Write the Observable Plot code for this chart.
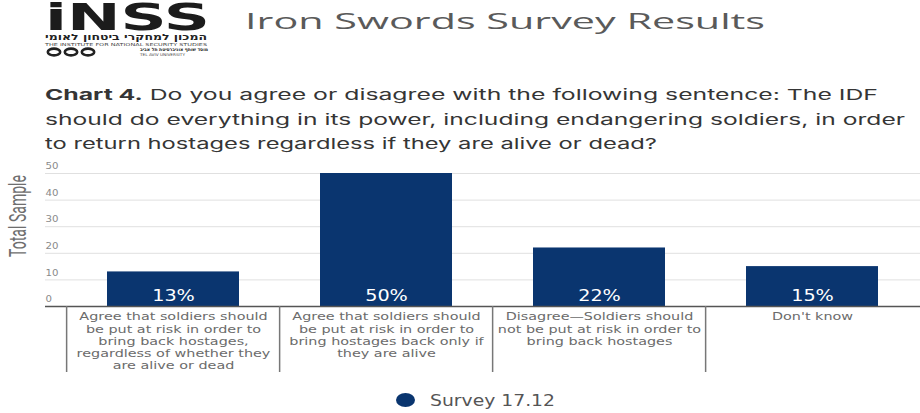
<!DOCTYPE html>
<html>
<head>
<meta charset="utf-8">
<script src="https://cdn.jsdelivr.net/npm/d3@7"></script>
<script src="https://cdn.jsdelivr.net/npm/@observablehq/plot@0.6"></script>
<style>
  html, body { margin: 0; padding: 0; background: #fff; }
  #page { position: relative; width: 920px; height: 413px; overflow: hidden; font-family: "DejaVu Sans", sans-serif; }
  #header { position: absolute; left: 0; top: 0; }
  #chart { position: absolute; left: 0; top: 155px; }
  #ylab { position: absolute; left: 0; top: 160px; }
  #legend { position: absolute; left: 380px; top: 385px; }
</style>
</head>
<body>
<div id="page">
  <svg id="header" width="920" height="155" xmlns="http://www.w3.org/2000/svg">
    <text transform="translate(45,30) scale(1,1.18)" font-family="DejaVu Sans" font-weight="bold" font-size="31" fill="#1c1c1c" textLength="165" lengthAdjust="spacingAndGlyphs">iNSS</text>
    <text x="126" y="40" font-family="DejaVu Sans" font-weight="bold" font-size="8.5" fill="#222" text-anchor="middle" textLength="162" lengthAdjust="spacingAndGlyphs">המכון למחקרי ביטחון לאומי</text>
    <text x="45" y="45.5" font-family="DejaVu Sans" font-size="4" fill="#444" textLength="162" lengthAdjust="spacingAndGlyphs">THE INSTITUTE FOR NATIONAL SECURITY STUDIES</text>
    <ellipse cx="54" cy="52" rx="6.2" ry="3.4" fill="none" stroke="#222" stroke-width="2.6"/>
    <ellipse cx="71" cy="52" rx="6.2" ry="3.4" fill="none" stroke="#222" stroke-width="2.6"/>
    <ellipse cx="88" cy="52" rx="6.2" ry="3.4" fill="none" stroke="#222" stroke-width="2.6"/>
    <text x="140" y="51" font-family="DejaVu Sans" font-weight="bold" font-size="4.5" fill="#222" textLength="68" lengthAdjust="spacingAndGlyphs">מוסד שותף אוניברסיטת תל אביב</text>
    <text x="140" y="55.5" font-family="DejaVu Sans" font-size="3.8" fill="#444" textLength="45" lengthAdjust="spacingAndGlyphs">TEL AVIV UNIVERSITY</text>
    <text x="245" y="28.5" font-family="Open Sans" font-size="22" fill="#5a5a5a" textLength="520" lengthAdjust="spacingAndGlyphs">Iron Swords Survey Results</text>
    <g font-family="Inter" font-size="15" fill="#353535">
      <text x="45" y="100" textLength="833" lengthAdjust="spacingAndGlyphs"><tspan font-weight="bold">Chart 4.</tspan> Do you agree or disagree with the following sentence: The IDF</text>
      <text x="45" y="124.5" textLength="860" lengthAdjust="spacingAndGlyphs">should do everything in its power, including endangering soldiers, in order</text>
      <text x="45" y="149" textLength="612" lengthAdjust="spacingAndGlyphs">to return hostages regardless if they are alive or dead?</text>
    </g>
  </svg>
  <div id="chart"></div>
  <svg id="ylab" width="40" height="120" xmlns="http://www.w3.org/2000/svg">
    <text transform="translate(26,56) rotate(-90)" font-family="Roboto" font-size="23" fill="#6e6e6e" text-anchor="middle" textLength="82" lengthAdjust="spacingAndGlyphs">Total Sample</text>
  </svg>
  <svg id="legend" width="200" height="28" xmlns="http://www.w3.org/2000/svg">
    <ellipse cx="25.5" cy="15" rx="9.5" ry="7" fill="#0a356f"/>
    <text id="legendText" x="50" y="20.5" font-family="DejaVu Sans" font-size="15" fill="#555" textLength="125" lengthAdjust="spacingAndGlyphs"></text>
  </svg>
</div>
<script>
const categories = [
  "Agree that soldiers should\nbe put at risk in order to\nbring back hostages,\nregardless of whether they\nare alive or dead",
  "Agree that soldiers should\nbe put at risk in order to\nbring hostages back only if\nthey are alive",
  "Disagree\u2014Soldiers should\nnot be put at risk in order to\nbring back hostages",
  "Don't know"
];
const values = [13, 50, 22, 15];
const valueLabels = ["13%", "50%", "22%", "15%"];
const yTicks = [0, 10, 20, 30, 40, 50];
const seriesName = "Survey 17.12";

document.getElementById("legendText").textContent = seriesName;

const data = categories.map((c, i) => ({category: c, value: values[i], label: valueLabels[i]}));
const barColor = "#0a356f";

const W = 920, H = 225, mTop = 18, mBottom = 74, mLeft = 45;
const xStart = 65;
const step = (W - xStart) / categories.length;

const chart = Plot.plot({
  width: W,
  height: H,
  marginTop: mTop,
  marginBottom: mBottom,
  marginLeft: mLeft,
  marginRight: 0,
  x: {type: "band", domain: categories, range: [xStart, W], paddingInner: 0.38, paddingOuter: 0.19, axis: null},
  y: {domain: [0, 50], axis: null},
  style: {fontFamily: "DejaVu Sans, sans-serif", background: "transparent"},
  marks: [
    Plot.ruleY(yTicks.filter(d => d > 0), {y: d => d, stroke: "#e0e0e0", strokeWidth: 1}),
    Plot.text(yTicks, {y: d => d, text: d => String(d), frameAnchor: "left", textAnchor: "start", dy: -7, fill: "#8a8a8a", fontSize: 8.5}),
    Plot.barY(data, {x: "category", y: "value", fill: barColor}),
    Plot.ruleY([0], {stroke: "#555", strokeWidth: 1.5}),
    Plot.text(data, {x: "category", y: 0, text: "label", dy: -10, fill: "#fff", fontSize: 15.5}),
    Plot.ruleX(categories, {x: d => d, dx: -step / 2, insetTop: H - mTop - mBottom, insetBottom: -66, stroke: "#777", strokeWidth: 1.5}),
    Plot.text(data, {x: "category", y: 0, text: "category", lineAnchor: "top", dy: 5, fill: "#6b6b6b", fontSize: 10.5, lineHeight: 1.17})
  ]
});
// horizontally widen the text marks (the reference type is stretched)
const textGroups = d3.select(chart).selectAll('g[aria-label="text"]').nodes();
const stretchFactors = [1.2, 1.24, 1.37]; // y tick labels, percentage labels, category labels
textGroups.forEach((g, i) => {
  const sx = stretchFactors[i] || 1;
  d3.select(g).selectAll("text").each(function() {
    const t = this.getAttribute("transform") || "";
    this.setAttribute("transform", t + ` scale(${sx},1)`);
  });
});
document.getElementById("chart").appendChild(chart);
</script>
</body>
</html>
